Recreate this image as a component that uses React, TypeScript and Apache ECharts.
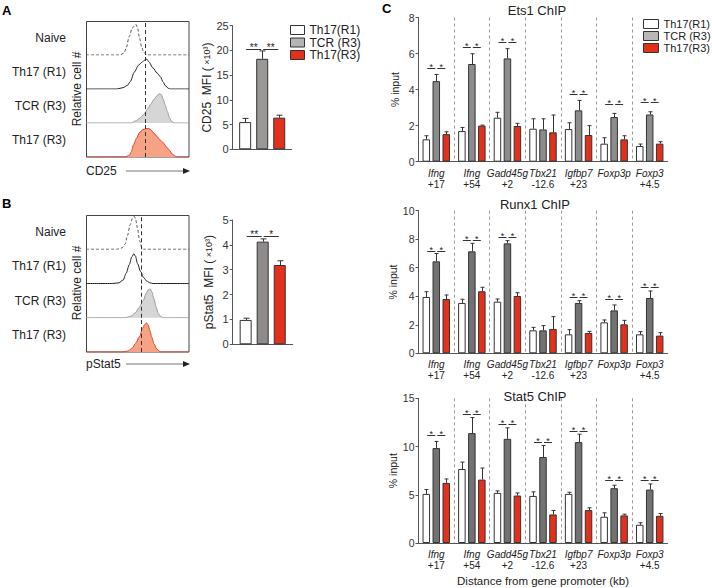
import React, { useEffect, useRef } from 'react';
import * as echarts from 'echarts';

const FONT = '"Liberation Sans", Arial, Helvetica, sans-serif';

// ---------- shared categories ----------
const groups = ['Th17(R1)', 'TCR (R3)', 'Th17(R3)'];
const rowLabels = ['Naive', 'Th17 (R1)', 'TCR (R3)', 'Th17 (R3)'];

// ---------- Panel A histograms (CD25): [fluorescence %, relative count] ----------
const cd25Naive = [[0, 0], [33, 0], [37, 0.06], [39, 0.2], [42, 0.55], [45, 0.8], [48.5, 0.9], [50, 0.8], [52, 0.5], [54, 0.24], [56, 0.08], [59, 0], [100, 0]];
const cd25R1 = [[0, 0], [30, 0], [36, 0.04], [40, 0.1], [43, 0.22], [47, 0.5], [51, 0.7], [54, 0.78], [57, 0.85], [59, 0.88], [61, 0.8], [65, 0.62], [69, 0.47], [72, 0.37], [75, 0.2], [77, 0.1], [80, 0.02], [82, 0], [100, 0]];
const cd25TCR = [[0, 0], [44, 0], [48, 0.06], [52, 0.14], [56, 0.25], [60, 0.42], [63, 0.56], [66, 0.7], [69, 0.8], [71, 0.86], [73, 0.84], [75, 0.7], [77, 0.52], [79, 0.34], [81, 0.16], [83, 0.05], [86, 0], [100, 0]];
const cd25R3 = [[0, 0], [38, 0], [42, 0.05], [44, 0.15], [46, 0.35], [49, 0.55], [52, 0.72], [55, 0.8], [58, 0.83], [61, 0.84], [63, 0.8], [66, 0.7], [69, 0.6], [72, 0.5], [75, 0.42], [78, 0.3], [81, 0.2], [84, 0.08], [87, 0.02], [89, 0], [100, 0]];
const cd25Gate = 58;

// ---------- Panel B histograms (pStat5) ----------
const pstatNaive = [[0, 0], [30, 0], [35, 0.04], [38, 0.15], [40, 0.38], [43, 0.72], [45, 0.9], [46.8, 0.96], [48, 0.9], [50, 0.62], [52, 0.25], [54, 0.06], [56, 0], [100, 0]];
const pstatR1 = [[0, 0], [26, 0], [32, 0.02], [36, 0.1], [39, 0.3], [42, 0.55], [44.5, 0.78], [46.5, 0.87], [48, 0.8], [50, 0.58], [53, 0.35], [56, 0.17], [59, 0.07], [62, 0.02], [65, 0], [100, 0]];
const pstatTCR = [[0, 0], [38, 0], [44, 0.05], [48, 0.15], [52, 0.32], [55.5, 0.5], [58.5, 0.72], [61, 0.83], [62.5, 0.84], [64, 0.75], [66, 0.55], [68, 0.32], [70, 0.14], [72, 0.05], [75, 0], [100, 0]];
const pstatR3 = [[0, 0], [36, 0], [41, 0.03], [45, 0.12], [48, 0.25], [52, 0.45], [55, 0.7], [57, 0.8], [58.7, 0.85], [60.5, 0.78], [62, 0.63], [64, 0.42], [66, 0.24], [68.5, 0.1], [71, 0.03], [73, 0], [100, 0]];
const pstatGate = 54;

// ---------- Panel A/B MFI bars ----------
const cd25Mean = [5.5, 18.3, 6.4];
const cd25Sem = [0.75, 1.6, 0.5];
const cd25SigLevels = [20.3, 20.3];
const cd25SigLabels = ['**', '**'];
const pstatMean = [0.98, 4.13, 3.19];
const pstatSem = [0.07, 0.11, 0.17];
const pstatSigLevels = [4.37, 4.37];
const pstatSigLabels = ['**', '*'];

// ---------- Panel C ChIP ----------
const loci = ['Ifng', 'Ifng', 'Gadd45g', 'Tbx21', 'Igfbp7', 'Foxp3p', 'Foxp3'];
const lociPos = ['+17', '+54', '+2', '-12.6', '+23', '', '+4.5'];

const ets1R1 = [1.24, 1.70, 2.44, 1.83, 1.81, 1.00, 0.87];
const ets1R1Sem = [0.20, 0.20, 0.30, 0.55, 0.35, 0.33, 0.11];
const ets1TCR = [4.47, 5.42, 5.73, 1.79, 2.85, 2.48, 2.62];
const ets1TCRSem = [0.37, 0.57, 0.54, 0.59, 0.55, 0.20, 0.15];
const ets1R3 = [1.53, 2.00, 1.98, 1.63, 1.48, 1.24, 1.00];
const ets1R3Sem = [0.13, 0.03, 0.15, 0.96, 0.52, 0.20, 0.11];
const ets1Sig = [5.18, 6.34, 6.62, null, 3.73, 3.18, 3.29];

const runx1R1 = [3.95, 3.53, 3.62, 1.61, 1.33, 2.17, 1.33];
const runx1R1Sem = [0.37, 0.26, 0.19, 0.21, 0.33, 0.17, 0.19];
const runx1TCR = [6.45, 7.15, 7.71, 1.61, 3.53, 3.01, 3.88];
const runx1TCRSem = [0.55, 0.56, 0.19, 0.33, 0.16, 0.38, 0.49];
const runx1R3 = [3.81, 4.35, 4.02, 1.71, 1.43, 2.03, 1.24];
const runx1R3Sem = [0.28, 0.28, 0.23, 0.86, 0.11, 0.28, 0.21];
const runx1Sig = [7.17, 7.92, 8.18, null, 3.93, 3.79, 4.67];

const stat5R1 = [5.09, 7.67, 5.19, 4.88, 5.09, 2.72, 1.89];
const stat5R1Sem = [0.45, 0.72, 0.21, 0.42, 0.17, 0.41, 0.21];
const stat5TCR = [9.84, 11.39, 10.8, 8.91, 10.46, 5.68, 5.54];
const stat5TCRSem = [0.69, 1.61, 1.14, 1.2, 0.82, 0.31, 0.58];
const stat5R3 = [6.23, 6.57, 4.92, 2.96, 3.41, 2.86, 2.82];
const stat5R3Sem = [0.41, 1.2, 0.27, 0.41, 0.24, 0.13, 0.24];
const stat5Sig = [11.2, 13.35, 12.3, 10.49, 11.6, 6.5, 6.5];

const RED = '#e3301c';
const AXIS = '#555';

function buildOption() {
  const grid: any[] = [];
  const xAxis: any[] = [];
  const yAxis: any[] = [];
  const series: any[] = [];

  const addAxes = (g: any, x: any, y: any) => {
    grid.push(g);
    const i = grid.length - 1;
    xAxis.push({ ...x, gridIndex: i });
    yAxis.push({ ...y, gridIndex: i });
    return i;
  };

  const histStyles = [
    { line: { color: '#555', width: 1, type: [3, 2] }, area: undefined },
    { line: { color: '#222', width: 1 }, area: undefined },
    { line: { color: '#9a9a9a', width: 1 }, area: { color: '#d6d6d6', opacity: 1 } },
    { line: { color: '#e2402a', width: 1 }, area: { color: '#f6a385', opacity: 1 } },
  ];

  const histPanel = (top: number, rowH: number, curves: number[][][], gate: number) => {
    curves.forEach((cv, r) => {
      const i = addAxes(
        { left: 86, top: top + r * rowH, width: 103, height: rowH },
        { type: 'value', min: 0, max: 100, show: false },
        {
          type: 'value', min: 0, max: 1,
          axisLine: { show: false }, axisTick: { show: false }, axisLabel: { show: false }, splitLine: { show: false },
          name: rowLabels[r], nameLocation: 'middle', nameRotate: 0, nameGap: 20,
          nameTextStyle: { fontSize: 12, color: '#222', fontFamily: FONT, align: 'right', padding: [0, 0, 4, 0] },
        }
      );
      series.push({
        type: 'line', xAxisIndex: i, yAxisIndex: i, data: cv,
        showSymbol: false, symbol: 'none', smooth: 0.3, smoothMonotone: 'x',
        lineStyle: histStyles[r].line, areaStyle: histStyles[r].area, z: 3, silent: true,
        markLine: {
          silent: true, symbol: 'none', label: { show: false },
          lineStyle: { color: '#333', type: [4, 3], width: 1 },
          data: [{ xAxis: gate }],
        },
      });
    });
  };

  histPanel(21, 34, [cd25Naive, cd25R1, cd25TCR, cd25R3], cd25Gate);
  histPanel(215, 34.25, [pstatNaive, pstatR1, pstatTCR, pstatR3], pstatGate);

  const offsetOf = (s: number, bw: number, gap: number) => (s - 1) * bw * (1 + gap);

  const barPanel = (cfg: any) => {
    const i = addAxes(cfg.grid, {
      type: 'category', data: cfg.cats,
      axisLine: { lineStyle: { color: AXIS, width: 1 } },
      axisTick: { show: false },
      ...cfg.x,
    }, {
      type: 'value', min: 0, max: cfg.yMax, interval: cfg.yInt,
      axisLine: { show: true, lineStyle: { color: AXIS, width: 1 } },
      axisTick: { show: true, length: 3, lineStyle: { color: AXIS } },
      axisLabel: { fontSize: cfg.tickSize, color: '#333', margin: 4, fontFamily: FONT },
      splitLine: { show: false },
      name: cfg.yName, nameLocation: 'middle', nameGap: cfg.yNameGap,
      nameTextStyle: { fontSize: cfg.yNameSize, color: '#222', fontFamily: FONT, rich: cfg.yRich },
    });
    const { bw, gap, cap } = cfg;
    cfg.means.forEach((m: number[], s: number) => {
      series.push({
        type: 'bar', name: groups[s], xAxisIndex: i, yAxisIndex: i, data: m,
        barWidth: bw, barGap: gap * 100 + '%', silent: true, z: 2,
        itemStyle: { color: cfg.colors[s], borderColor: '#333', borderWidth: 1 },
      });
    });
    const errData: number[][] = [];
    cfg.means.forEach((m: number[], s: number) => {
      m.forEach((v, c) => errData.push([c, v, v + cfg.sems[s][c], s]));
    });
    series.push({
      type: 'custom', xAxisIndex: i, yAxisIndex: i, data: errData, silent: true, z: 4, clip: false,
      renderItem: (_p: any, api: any) => {
        const c = api.value(0);
        const s = api.value(3);
        const p0 = api.coord([c, api.value(1)]);
        const p1 = api.coord([c, api.value(2)]);
        const x = Math.round(p0[0] + offsetOf(s, bw, gap)) + 0.5;
        return {
          type: 'group', children: [
            { type: 'line', shape: { x1: x, y1: p0[1], x2: x, y2: p1[1] }, style: { stroke: '#333', lineWidth: 1 } },
            { type: 'line', shape: { x1: x - cap / 2, y1: p1[1], x2: x + cap / 2, y2: p1[1] }, style: { stroke: '#333', lineWidth: 1 } },
          ],
        };
      },
    });
    const sig: any[] = cfg.sig;
    series.push({
      type: 'custom', xAxisIndex: i, yAxisIndex: i, data: sig.map((d) => [d.cat, d.level]), silent: true, z: 4, clip: false,
      renderItem: (params: any, api: any) => {
        const d = sig[params.dataIndex];
        const p = api.coord([d.cat, d.level]);
        const xa = p[0] + offsetOf(d.pair, bw, gap);
        const xb = p[0] + offsetOf(d.pair + 1, bw, gap);
        const x1 = xa + 1;
        const x2 = xb - 1;
        const y = Math.round(p[1]) + 0.5;
        return {
          type: 'group', children: [
            { type: 'line', shape: { x1, y1: y, x2, y2: y }, style: { stroke: '#333', lineWidth: 1 } },
            {
              type: 'text', x: (x1 + x2) / 2, y: y - cfg.starSize * 0.72,
              style: { text: d.label, fontSize: cfg.starSize, fontFamily: FONT, fill: '#222', align: 'center', verticalAlign: 'top' },
            },
          ],
        };
      },
    });
    return i;
  };

  const mfiSig = (levels: number[], labels: string[]) => levels.map((l, k) => ({ cat: 0, pair: k, level: l, label: labels[k] }));
  const chipSig = (levels: (number | null)[]) => {
    const out: any[] = [];
    levels.forEach((l, c) => {
      if (l != null) {
        out.push({ cat: c, pair: 0, level: l, label: '*' });
        out.push({ cat: c, pair: 1, level: l, label: '*' });
      }
    });
    return out;
  };

  const richName = { n: { fontSize: 12, fontFamily: FONT, color: '#222' }, s: { fontSize: 9, fontFamily: FONT, color: '#222' } };

  barPanel({
    grid: { left: 232.7, top: 25.7, width: 59, height: 123.6 },
    cats: ['MFI'], x: { axisLabel: { show: false } },
    yMax: 25, yInt: 5, tickSize: 11,
    yName: '{n|CD25  MFI (}{s| ×10³}{n|)}', yNameGap: 18, yNameSize: 12, yRich: richName,
    means: [[cd25Mean[0]], [cd25Mean[1]], [cd25Mean[2]]],
    sems: [[cd25Sem[0]], [cd25Sem[1]], [cd25Sem[2]]],
    colors: ['#ffffff', '#9b9797', RED], bw: 12, gap: 0.42, cap: 6, starSize: 10,
    sig: mfiSig(cd25SigLevels, cd25SigLabels),
  });
  barPanel({
    grid: { left: 232.7, top: 220, width: 60, height: 124.3 },
    cats: ['MFI'], x: { axisLabel: { show: false } },
    yMax: 5, yInt: 1, tickSize: 11,
    yName: '{n|pStat5  MFI (}{s| ×10³}{n|)}', yNameGap: 18, yNameSize: 12, yRich: richName,
    means: [[pstatMean[0]], [pstatMean[1]], [pstatMean[2]]],
    sems: [[pstatSem[0]], [pstatSem[1]], [pstatSem[2]]],
    colors: ['#ffffff', '#8f8b8b', RED], bw: 12, gap: 0.42, cap: 6, starSize: 10,
    sig: mfiSig(pstatSigLevels, pstatSigLabels),
  });

  const chipCats = loci.map((g, k) => g + '|' + lociPos[k]);
  const chipX = (extra: any = {}) => ({
    axisLabel: {
      interval: 0, margin: 6, color: '#222', fontFamily: FONT,
      formatter: (v: string) => {
        const [g, o] = v.split('|');
        return o ? `{g|${g}}\n{o|${o}}` : `{g|${g}}`;
      },
      rich: {
        g: { fontStyle: 'italic', fontSize: 10, lineHeight: 11, fontFamily: FONT, color: '#222' },
        o: { fontSize: 10, lineHeight: 11, fontFamily: FONT, color: '#222' },
      },
    },
    splitLine: { show: true, interval: 0, showMinLine: false, showMaxLine: false, lineStyle: { color: '#999', type: [3, 3], width: 1 } },
    ...extra,
  });

  const chipCommon = {
    tickSize: 10.5, yName: '% input', yNameGap: 18, yNameSize: 10.5, bw: 7.5, gap: 0.33, cap: 4, starSize: 9,
  };

  barPanel({
    ...chipCommon,
    grid: { left: 418.5, top: 17.5, width: 249, height: 144.2 },
    cats: chipCats, x: chipX(), yMax: 8, yInt: 2,
    means: [ets1R1, ets1TCR, ets1R3], sems: [ets1R1Sem, ets1TCRSem, ets1R3Sem],
    colors: ['#ffffff', '#8c8c8c', RED], sig: chipSig(ets1Sig),
  });
  barPanel({
    ...chipCommon,
    grid: { left: 418.5, top: 210.7, width: 249, height: 142.6 },
    cats: chipCats, x: chipX(), yMax: 10, yInt: 2,
    means: [runx1R1, runx1TCR, runx1R3], sems: [runx1R1Sem, runx1TCRSem, runx1R3Sem],
    colors: ['#ffffff', '#727272', RED], sig: chipSig(runx1Sig),
  });
  barPanel({
    ...chipCommon,
    grid: { left: 418.5, top: 398.3, width: 249, height: 145.4 },
    cats: chipCats,
    x: chipX({
      name: 'Distance from gene promoter (kb)', nameLocation: 'middle', nameGap: 32,
      nameTextStyle: { fontSize: 11.5, color: '#222', fontFamily: FONT },
    }),
    yMax: 15, yInt: 5,
    means: [stat5R1, stat5TCR, stat5R3], sems: [stat5R1Sem, stat5TCRSem, stat5R3Sem],
    colors: ['#ffffff', '#727272', RED], sig: chipSig(stat5Sig),
  });

  const legendData = (grey: string) => groups.map((n, k) => ({
    name: n,
    itemStyle: { color: ['#ffffff', grey, RED][k], borderColor: '#333', borderWidth: 1 },
  }));

  const textStyle = (size: number, extra: any = {}) => ({ fontSize: size, fontFamily: FONT, fill: '#222', ...extra });

  const graphic: any[] = [
    { type: 'text', x: 2, y: 4, style: textStyle(13, { text: 'A', fontWeight: 'bold', fill: '#000' }) },
    { type: 'text', x: 2, y: 197, style: textStyle(13, { text: 'B', fontWeight: 'bold', fill: '#000' }) },
    { type: 'text', x: 382, y: 2, style: textStyle(13, { text: 'C', fontWeight: 'bold', fill: '#000' }) },
    { type: 'rect', shape: { x: 86.5, y: 21.5, width: 102.5, height: 135.5 }, style: { fill: 'none', stroke: '#444', lineWidth: 1 }, z: 0 },
    { type: 'rect', shape: { x: 86.5, y: 215.5, width: 102.5, height: 136.5 }, style: { fill: 'none', stroke: '#444', lineWidth: 1 }, z: 0 },
    { type: 'text', x: 77, y: 89, rotation: Math.PI / 2, style: textStyle(12, { text: 'Relative cell #', align: 'center', verticalAlign: 'middle' }) },
    { type: 'text', x: 77, y: 283, rotation: Math.PI / 2, style: textStyle(12, { text: 'Relative cell #', align: 'center', verticalAlign: 'middle' }) },
    { type: 'text', x: 86, y: 171, style: textStyle(12, { text: 'CD25', verticalAlign: 'middle' }) },
    { type: 'line', shape: { x1: 126, y1: 171, x2: 184, y2: 171 }, style: { stroke: '#777', lineWidth: 1.2 } },
    { type: 'polygon', shape: { points: [[183, 168], [190, 171], [183, 174]] }, style: { fill: '#222' } },
    { type: 'text', x: 86, y: 364, style: textStyle(12, { text: 'pStat5', verticalAlign: 'middle' }) },
    { type: 'line', shape: { x1: 126, y1: 364, x2: 184, y2: 364 }, style: { stroke: '#777', lineWidth: 1.2 } },
    { type: 'polygon', shape: { points: [[183, 361], [190, 364], [183, 367]] }, style: { fill: '#222' } },
  ];

  const titleStyle = { fontSize: 13, fontWeight: 'normal', fontFamily: FONT, color: '#222' };

  return {
    animation: false,
    backgroundColor: '#ffffff',
    textStyle: { fontFamily: FONT },
    title: [
      { text: 'Ets1 ChIP', left: 537, top: 4, textAlign: 'center', textStyle: titleStyle, padding: 0 },
      { text: 'Runx1 ChIP', left: 535, top: 198, textAlign: 'center', textStyle: titleStyle, padding: 0 },
      { text: 'Stat5 ChIP', left: 535, top: 390, textAlign: 'center', textStyle: titleStyle, padding: 0 },
    ],
    legend: [
      {
        orient: 'vertical', left: 290, top: 24, padding: 0, itemWidth: 14, itemHeight: 9, itemGap: 0.5,
        icon: 'rect', selectedMode: false, data: legendData('#b4b4b4'),
        textStyle: { fontSize: 12, fontFamily: FONT, color: '#222', lineHeight: 12 },
      },
      {
        orient: 'vertical', left: 643, top: 18, padding: 0, itemWidth: 15, itemHeight: 9, itemGap: 0,
        icon: 'rect', selectedMode: false, data: legendData('#b8b8b8'),
        textStyle: { fontSize: 11, fontFamily: FONT, color: '#222', lineHeight: 12 },
      },
    ],
    grid, xAxis, yAxis, series, graphic,
  };
}

export default function App() {
  const ref = useRef<HTMLDivElement>(null);
  useEffect(() => {
    document.body.style.margin = '0';
    const chart = echarts.init(ref.current!, null, { renderer: 'svg' });
    chart.setOption(buildOption() as any);
    return () => chart.dispose();
  }, []);
  return <div ref={ref} style={{ width: 712, height: 588 }} />;
}
